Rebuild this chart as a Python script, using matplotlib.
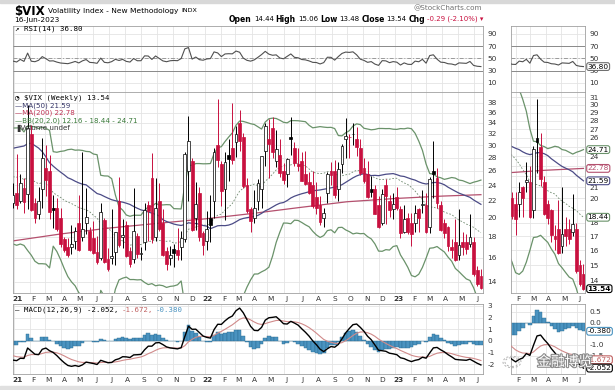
import matplotlib
matplotlib.use("Agg")
import matplotlib.pyplot as plt
import matplotlib.dates as mdates
import matplotlib.transforms as mtransforms
import matplotlib.patheffects as pe
from matplotlib.patches import Circle, Rectangle
from matplotlib.ticker import FixedLocator, NullLocator, FuncFormatter
import numpy as np
import pandas as pd

plt.rcParams['font.family'] = ['DejaVu Sans', 'Noto Sans CJK SC']

# weekly $VIX candles, week of 2020-12-28 .. week of 2023-06-12 (midweek dates)
first_week = "2020-12-30"
opens = [
    21.7, 23.0, 22.0, 23.6, 22.9, 32.0, 21.7, 20.5, 23.5, 26.5, 26.0, 21.2, 21.2, 20.0, 17.8, 17.0, 17.0, 17.6,
    19.5, 18.0, 19.5, 18.6, 17.9, 16.5, 16.0, 19.8, 15.9, 16.0, 16.5, 22.0, 18.0, 19.2, 16.6, 15.9, 18.1, 16.4,
    17.5, 21.5, 25.0, 18.0, 22.0, 19.5, 16.6, 16.0, 16.8, 16.7, 17.0, 17.8, 26.0, 27.5, 20.0, 23.0, 18.4,
    17.6, 20.0, 22.0, 30.0, 27.0, 23.5, 28.5, 29.5, 30.5, 34.0, 31.5, 24.0, 21.0, 20.0, 22.0, 23.5, 29.0,
    31.0, 33.0, 27.5, 28.5, 26.0, 25.5, 31.5, 29.5, 27.0, 27.5, 25.5, 24.5, 24.0, 22.5, 21.5, 20.0, 23.0, 26.0,
    26.0, 23.5, 27.0, 31.0, 31.5, 32.0, 31.0, 29.5, 26.5, 25.5, 23.5, 23.5, 21.5, 19.5, 24.0, 22.0, 21.0,
    22.5, 21.0, 18.5, 20.0, 19.5, 19.5, 21.0, 21.5, 21.5, 19.0, 26.0, 25.0, 21.5, 19.5, 19.0, 17.0, 17.5,
    16.3, 17.5, 17.5, 17.3, 17.5, 15.0, 14.44,
]
highs = [
    24.3, 28.6, 25.6, 25.0, 37.5, 33.6, 22.4, 23.8, 31.2, 30.0, 28.4, 22.7, 22.4, 21.1, 18.0, 17.9, 19.2, 19.0,
    22.7, 28.9, 23.7, 19.0, 19.7, 18.1, 21.8, 20.0, 16.9, 21.0, 18.5, 25.1, 19.9, 19.7, 17.0, 23.7, 18.4, 17.0,
    21.8, 22.0, 28.8, 25.0, 24.3, 21.0, 17.0, 17.1, 17.3, 18.9, 18.6, 28.9, 35.3, 28.0, 24.5, 23.8, 18.6,
    20.8, 22.8, 29.6, 38.9, 27.5, 28.9, 31.0, 38.0, 33.5, 36.5, 32.2, 25.0, 21.3, 23.4, 24.8, 28.2, 34.0,
    34.8, 35.2, 32.6, 31.0, 27.2, 28.0, 35.1, 30.6, 29.6, 28.9, 29.0, 25.8, 26.0, 24.5, 22.6, 21.2, 25.8, 27.4,
    27.6, 27.3, 30.2, 34.9, 32.0, 34.0, 33.2, 31.0, 27.9, 27.5, 25.3, 24.0, 22.6, 23.5, 24.8, 22.8, 23.0,
    23.8, 21.4, 21.5, 20.6, 20.6, 21.5, 21.1, 23.4, 23.0, 25.1, 30.8, 26.5, 22.0, 19.9, 19.1, 17.8, 19.9,
    21.0, 18.5, 18.3, 20.4, 18.0, 15.3, 15.06,
]
lows = [
    21.2, 21.0, 21.7, 20.6, 21.0, 20.8, 19.5, 19.9, 21.1, 22.6, 19.9, 18.9, 18.6, 17.0, 16.5, 16.1, 16.4, 16.8,
    16.6, 17.6, 18.3, 16.6, 16.4, 15.5, 15.8, 15.6, 14.9, 15.5, 15.4, 17.0, 16.9, 16.1, 15.2, 15.6, 16.0, 15.8,
    16.7, 17.6, 17.4, 17.6, 18.6, 16.2, 15.0, 15.4, 15.2, 15.8, 15.8, 17.5, 22.0, 18.6, 18.7, 17.6, 16.3,
    16.7, 17.5, 20.0, 26.6, 21.4, 19.8, 24.6, 27.0, 28.1, 29.0, 23.6, 20.6, 18.5, 19.4, 20.9, 21.1, 26.8,
    25.0, 28.0, 26.6, 25.1, 24.2, 23.8, 28.5, 26.7, 26.0, 24.6, 24.0, 22.9, 21.2, 20.4, 19.2, 19.0, 21.8, 24.0,
    22.3, 22.0, 25.7, 28.0, 28.0, 30.0, 28.2, 25.4, 24.3, 22.3, 22.5, 20.4, 18.9, 19.2, 19.3, 20.1, 19.9,
    20.9, 17.9, 18.4, 18.3, 17.1, 18.5, 18.5, 20.6, 18.4, 18.4, 22.3, 21.1, 18.6, 17.9, 16.6, 16.0, 15.7,
    15.8, 16.3, 16.4, 17.0, 14.5, 13.7, 13.48,
]
closes = [
    22.75, 21.56, 24.34, 21.91, 33.09, 20.87, 19.97, 22.05, 27.95, 24.66, 20.69, 20.95, 18.86, 17.33, 16.69,
    16.25, 17.33, 18.61, 16.69, 18.81, 20.15, 16.76, 16.42, 15.65, 20.70, 15.62, 15.07, 16.18, 18.45, 17.20,
    18.24, 16.15, 15.45, 18.56, 16.39, 16.41, 20.95, 20.81, 17.75, 21.15, 18.77, 16.30, 15.43, 16.26, 16.48,
    16.29, 17.91, 28.62, 30.67, 18.69, 21.57, 17.96, 17.22,
    18.76, 19.19, 28.85, 27.66, 23.22, 27.36, 27.75, 27.59, 31.98, 30.75, 23.87, 20.81, 19.63, 21.16, 24.37,
    28.21, 33.40, 30.19, 28.87, 29.43, 25.72, 24.79, 27.75, 31.13, 27.23, 26.70, 24.64, 24.23, 23.03, 21.33,
    21.15, 19.53, 20.60, 25.56, 25.47, 22.79, 26.30, 29.92, 31.62, 31.36, 32.02, 29.69, 25.75, 24.55, 22.52,
    23.12, 20.50, 19.06, 22.83, 22.62, 20.87, 21.67,
    21.13, 18.35, 19.85, 18.51, 18.33, 20.53, 20.02, 21.67, 18.49, 24.80, 25.51, 21.74, 18.70, 18.40, 17.07,
    16.77, 15.78, 17.19, 17.03, 16.81, 17.95, 14.60, 13.83, 13.54,
]
# 2020 weekly closes, only used to warm up the indicators
closes_2020 = [
    14.02, 12.56, 12.10, 14.56, 18.84, 15.47, 13.68, 17.08, 40.11, 41.94, 57.83, 66.04, 65.54, 46.80, 41.67,
    38.15, 35.93, 37.19, 27.98, 31.89, 28.16, 27.51, 24.52, 36.09, 35.12, 34.73, 27.68, 27.29, 25.68, 25.84,
    24.46, 22.21, 22.05, 22.54, 22.96, 30.75, 26.87, 25.83, 26.38, 27.63, 25.00, 27.41, 27.55, 38.02, 24.86,
    23.10, 23.70, 20.84, 20.79, 23.31, 21.57, 21.53,
]
# MA(200)
ma200_dates = ["2020-12-30", "2021-04-01", "2021-07-01", "2021-10-01", "2022-01-01", "2022-04-01",
               "2022-07-01", "2022-10-01", "2023-01-01", "2023-04-01", "2023-06-14"]
ma200_vals = [17.6, 18.3, 18.9, 19.4, 19.9, 20.5, 21.2, 21.9, 22.3, 22.6, 22.78]

RED = "#c8103f"
MA50_C = "#4b4b86"
MA200_C = "#b4506e"
BB_C = "#6a926a"
GRID = "#e4e4e4"

# ---- indicators
allc = pd.Series(closes_2020 + closes)
n0 = len(closes_2020)
ma50 = allc.rolling(50).mean().iloc[n0:].to_numpy()
mid = allc.rolling(20).mean()
sd = allc.rolling(20).std(ddof=0)
bb_mid = mid.iloc[n0:].to_numpy()
bb_up = (mid + 2 * sd).iloc[n0:].to_numpy()
bb_lo = (mid - 2 * sd).iloc[n0:].to_numpy()
d = allc.diff()
gain = d.clip(lower=0).ewm(alpha=1 / 14, adjust=False).mean()
loss = (-d.clip(upper=0)).ewm(alpha=1 / 14, adjust=False).mean()
rsi = (100 - 100 / (1 + gain / loss)).iloc[n0:].to_numpy()
macd_all = allc.ewm(span=12, adjust=False).mean() - allc.ewm(span=26, adjust=False).mean()
sig_all = macd_all.ewm(span=9, adjust=False).mean()
macd = macd_all.iloc[n0:].to_numpy()
sig = sig_all.iloc[n0:].to_numpy()
hist = macd - sig

dates = pd.date_range(first_week, periods=len(closes), freq="7D")
xs = mdates.date2num(dates)
o, h, l, c = map(np.array, (opens, highs, lows, closes))
prev = np.concatenate([[closes_2020[-1]], c[:-1]])
ma200_x = mdates.date2num(pd.to_datetime(ma200_dates))

W, H = 615, 390
fig = plt.figure(figsize=(W / 100, H / 100), dpi=100)
renderer = fig.canvas.get_renderer()


def box(x0, y0, x1, y1):
    return fig.add_axes([x0 / W, 1 - y1 / H, (x1 - x0) / W, (y1 - y0) / H])


def ftext(x, y, s, **kw):
    kw.setdefault("va", "center")
    kw.setdefault("fontsize", 5.5)
    return fig.text(x / W, 1 - y / H, s, **kw)


def run_text(x, y, pieces, gap=2.5):
    # lay text pieces one after another on a line
    for s, kw in pieces:
        t = ftext(x, y, s, **kw)
        x += t.get_window_extent(renderer=renderer).width + gap


def style(ax, xlim, months, yticks, fmt):
    ax.set_xlim(*xlim)
    for sp in ax.spines.values():
        sp.set_color("#a0a0a0")
        sp.set_linewidth(0.6)
    for m in months:
        ax.axvline(mdates.date2num(m), color=GRID, lw=0.6, zorder=0)
    for v in yticks:
        ax.axhline(v, color=GRID, lw=0.6, zorder=0)
    ax.yaxis.tick_right()
    ax.yaxis.set_major_locator(FixedLocator(yticks))
    ax.yaxis.set_minor_locator(NullLocator())
    ax.yaxis.set_major_formatter(FuncFormatter(fmt))
    ax.tick_params(axis="y", length=0, labelsize=5.3, labelcolor="#333333", pad=3)
    ax.set_xticks([])


def month_labels(ax, months):
    pos = [mdates.date2num(m) + 6 for m in months]
    labs = [("%02d" % (m.year % 100)) if m.month == 1 else "JFMAMJJASOND"[m.month - 1] for m in months]
    ax.set_xticks(pos)
    ax.set_xticklabels(labs, fontsize=5.3, color="#333333")
    for t, m in zip(ax.get_xticklabels(), months):
        if m.month == 1:
            t.set_fontweight("bold")
    ax.tick_params(axis="x", length=0, pad=2)


def candles(ax):
    col = np.where(c < prev, RED, "black")
    face = np.where(c >= o, "white", col)
    ax.vlines(xs, l, h, colors=col, lw=0.7, zorder=3)
    lo_ = np.minimum(o, c)
    hi_ = np.maximum(o, c)
    ax.bar(xs, hi_ - lo_, bottom=lo_, width=5.4, color=face, edgecolor=col, lw=0.5, zorder=4)


def value_tag(ax, v, s, ec, tc="black", bold=False):
    tr = mtransforms.blended_transform_factory(ax.transAxes, ax.transData)
    ax.text(1.035, v, s, transform=tr, ha="left", va="center", fontsize=5.3, color=tc,
            fontweight="bold" if bold else "normal", zorder=10, clip_on=False,
            bbox=dict(boxstyle="round,pad=0.12,rounding_size=0.3", fc="white", ec=ec, lw=0.8))


main_x = (mdates.date2num(pd.Timestamp("2020-12-30")), mdates.date2num(pd.Timestamp("2023-06-18")))
right_x = (mdates.date2num(pd.Timestamp("2023-01-23")), mdates.date2num(pd.Timestamp("2023-06-17")))
main_months = list(pd.date_range("2021-01-01", "2023-06-01", freq="MS"))
right_months = list(pd.date_range("2023-02-01", "2023-06-01", freq="MS"))
right_hidden = {19, 22, 23, 25}

panels = [(13, 483, main_x, main_months, (13.16, 40.4), [14, 16, 18, 20, 22, 24, 26, 28, 30, 32, 34, 36, 38],
           lambda v, p: "%g" % v, (-2.83, 3.17), [-2, -1, 0, 1, 2, 3], lambda v, p: "%d" % v),
          (511, 585, right_x, right_months, (13.29, 31.7), list(range(14, 32)),
           lambda v, p: "" if round(v) in right_hidden else "%g" % v,
           (-2.32, 0.86), [-1.5, -1.0, 0.0, 0.5], lambda v, p: "%.1f" % v)]

axes = []
for x0, x1, xl, months, plim, pticks, pfmt, mlim, mticks, mfmt in panels:
    # RSI
    ar = box(x0, 26, x1, 92)
    ar.set_ylim(-4.7, 103)
    style(ar, xl, months, [10, 30, 50, 70, 90], lambda v, p: "%d" % v)
    ar.axhline(70, color="#8a8a8a", lw=0.7, zorder=1)
    ar.axhline(30, color="#8a8a8a", lw=0.7, zorder=1)
    ar.axhline(50, color="#9a9a9a", lw=0.7, ls=(0, (4, 2, 1, 2)), zorder=1)
    ar.plot(xs, rsi, color="#505050", lw=0.8, zorder=3)

    # price
    ap = box(x0, 92, x1, 293)
    ap.set_yscale("log")
    ap.set_ylim(*plim)
    style(ap, xl, months, pticks, pfmt)
    month_labels(ap, months)
    ap.plot(xs, bb_up, color=BB_C, lw=0.9, zorder=2)
    ap.plot(xs, bb_lo, color=BB_C, lw=0.9, zorder=2)
    ap.plot(xs, bb_mid, color="#6f8a6f", lw=0.6, ls=(0, (2, 2)), zorder=2)
    ap.plot(ma200_x, ma200_vals, color=MA200_C, lw=0.9, zorder=2)
    ap.plot(xs, ma50, color=MA50_C, lw=0.9, zorder=2)
    candles(ap)

    # MACD
    am = box(x0, 304, x1, 374)
    am.set_ylim(*mlim)
    style(am, xl, months, mticks, mfmt)
    month_labels(am, months)
    am.bar(xs, hist, width=7, color="#4a93c0", edgecolor="#2a6a90", lw=0.3, zorder=2)
    am.plot(xs, sig, color="#d08a8a", lw=0.8, zorder=3)
    am.plot(xs, macd, color="black", lw=1.0, zorder=4)
    axes.append((ar, ap, am))

ar, ap, am = axes[1]
value_tag(ar, 36.80, "36.80", "#707070")
value_tag(ap, 24.71, "24.71", BB_C)
value_tag(ap, 22.78, "22.78", MA200_C, tc=MA200_C)
value_tag(ap, 21.59, "21.59", MA50_C)
value_tag(ap, 18.44, "18.44", BB_C)
value_tag(ap, 13.54, "13.54", "black", bold=True)
value_tag(am, -0.380, "-0.380", "#4a93c0")
value_tag(am, -1.672, "-1.672", "#c06060", tc="#c06060")
value_tag(am, -2.052, "-2.052", "black")

# header
run_text(14, 11, [("$VIX", dict(fontsize=8.5, fontweight="bold")),
                  ("Volatility Index - New Methodology", dict(fontsize=5.4)),
                  ("INDX", dict(fontsize=4.6))], gap=3)
ftext(14, 20, "16-Jun-2023", fontsize=5.3)
ftext(413, 8, "@StockCharts.com", fontsize=5.2, color="#707070")
bold = dict(fontsize=5.5, fontweight="bold")
norm = dict(fontsize=5.0)
run_text(229, 19, [("Open", bold), ("14.44", norm), ("High", bold), ("15.06", norm), ("Low", bold),
                   ("13.48", norm), ("Close", bold), ("13.54", norm), ("Chg", bold),
                   ("-0.29 (-2.10%) \u25be", dict(fontsize=5.0, color=RED))], gap=2)

# legends
mono = "DejaVu Sans Mono"
ftext(15, 29, "\u2197 RSI(14) 36.80", fontsize=5.3, family=mono)
ftext(15, 98, "\u25d4 $VIX (Weekly) 13.54", fontsize=5.3, family=mono)
ftext(15, 106, "\u2014MA(50) 21.59", fontsize=5.1, color="#333366")
ftext(15, 113, "\u2014MA(200) 22.78", fontsize=5.1, color="#c03355")
ftext(15, 121, "\u2014BB(20,2.0) 12.16 - 18.44 - 24.71", fontsize=5.1, color="#3a7a3a")
ftext(15, 128, "\u2590Volume undef", fontsize=5.1, color="#333333")
run_text(15, 310, [("\u2014 MACD(12,26,9) -2.052,", dict(fontsize=5.3, family=mono)),
                   ("-1.672,", dict(fontsize=5.3, family=mono, color="#c06060")),
                   ("-0.380", dict(fontsize=5.3, family=mono, color="#4a93c0"))], gap=3)

# page edges
fig.patches.append(Rectangle((0, 1 - 3 / H), 1, 3 / H, transform=fig.transFigure, color="#d8d8d8", zorder=0))
fig.patches.append(Rectangle((0, 0), 1, 4 / H, transform=fig.transFigure, color="#e0e0e0", zorder=0))

# WeChat watermark
for r in (7, 9):
    fig.patches.append(Circle((512 / W, 1 - 362 / H), r / W, transform=fig.transFigure, fill=False,
                              ec="#b0b0b0", lw=0.7, ls=(0, (2, 2)), zorder=20))
ftext(537, 362, "金融博览", fontsize=10, color="white", family=["Noto Sans CJK SC"], zorder=21,
      path_effects=[pe.withStroke(linewidth=1.6, foreground="#8a8a8a")])

fig.savefig("out.png", dpi=100)
